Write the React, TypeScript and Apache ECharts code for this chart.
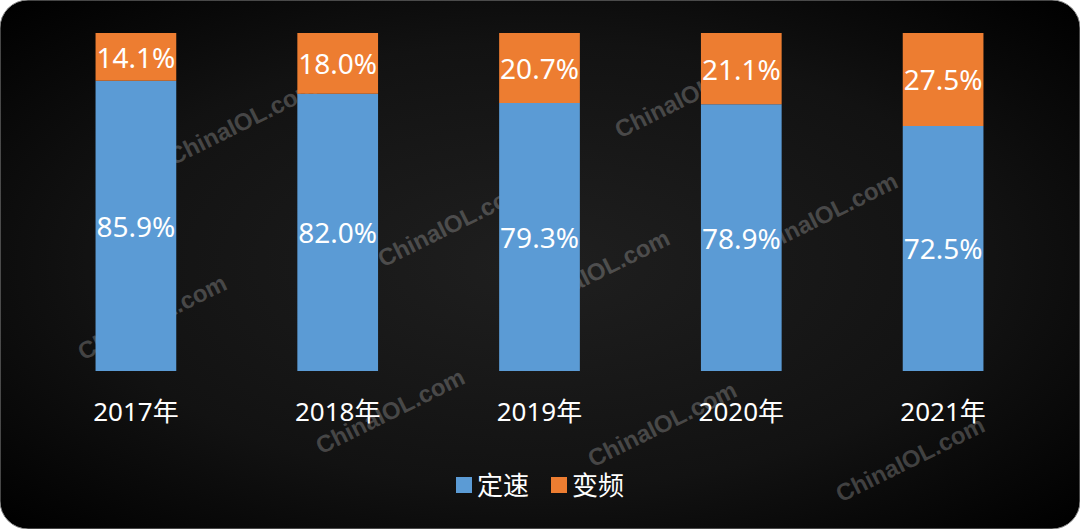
import React, { useEffect, useRef } from "react";
import * as echarts from "echarts";

const categories = ["2017年", "2018年", "2019年", "2020年", "2021年"];
const fixedSpeed = [85.9, 82.0, 79.3, 78.9, 72.5];
const variableFreq = [14.1, 18.0, 20.7, 21.1, 27.5];
const seriesNames = ["定速", "变频"];
const watermarkText = "ChinaIOL.com";
const watermarkCenters: [number, number][] = [
  [152, 317],
  [242, 122],
  [390, 411],
  [452, 224],
  [595, 272],
  [689, 95],
  [662, 424],
  [823, 215],
  [910, 459],
];

const FONT = "'Noto Sans', 'Noto Sans CJK SC', sans-serif";

export default function App() {
  const ref = useRef<HTMLDivElement>(null);

  useEffect(() => {
    if (!ref.current) return;
    const chart = echarts.init(ref.current, undefined, { renderer: "svg" });

    const watermarks = watermarkCenters.map(([x, y]) => ({
      type: "text",
      x,
      y,
      rotation: 0.46,
      z: -5,
      style: {
        text: watermarkText,
        fill: "rgba(255,255,255,0.22)",
        font: "bold 24px Arial, 'Liberation Sans', sans-serif",
        textAlign: "center",
        textVerticalAlign: "middle",
      },
    }));

    chart.setOption({
      animation: false,
      backgroundColor: "#ffffff",
      graphic: [
        {
          type: "rect",
          x: 0,
          y: 0,
          z: -10,
          shape: { width: 1080, height: 529, r: 28 },
          style: {
            fill: new echarts.graphic.RadialGradient(0.5, 0.5, 0.7, [
              { offset: 0, color: "#1f1f1f" },
              { offset: 0.6, color: "#121212" },
              { offset: 1, color: "#000000" },
            ]),
            stroke: "#8a8a8a",
            lineWidth: 1,
          },
        },
        ...watermarks,
      ],
      legend: {
        data: seriesNames,
        left: "center",
        top: 467,
        icon: "rect",
        itemWidth: 16,
        itemHeight: 16,
        itemGap: 22,
        textStyle: { color: "#ffffff", fontSize: 26, fontFamily: FONT },
      },
      grid: { left: 35, right: 36, top: 33, bottom: 158 },
      xAxis: {
        type: "category",
        data: categories,
        axisLine: { show: false },
        axisTick: { show: false },
        axisLabel: {
          color: "#ffffff",
          fontSize: 26,
          fontFamily: FONT,
          margin: 27,
        },
      },
      yAxis: {
        type: "value",
        min: 0,
        max: 100,
        show: false,
        splitLine: { show: false },
      },
      series: [
        {
          name: seriesNames[0],
          type: "bar",
          stack: "total",
          barWidth: "40%",
          data: fixedSpeed,
          itemStyle: { color: "#5B9BD5" },
          label: {
            show: true,
            position: "inside",
            color: "#ffffff",
            fontSize: 28,
            fontFamily: FONT,
            formatter: (p: any) => `${p.value.toFixed(1)}%`,
          },
        },
        {
          name: seriesNames[1],
          type: "bar",
          stack: "total",
          barWidth: "40%",
          data: variableFreq,
          itemStyle: { color: "#ED7D31" },
          label: {
            show: true,
            position: "inside",
            color: "#ffffff",
            fontSize: 28,
            fontFamily: FONT,
            formatter: (p: any) => `${p.value.toFixed(1)}%`,
          },
        },
      ],
    });

    return () => chart.dispose();
  }, []);

  return (
    <div
      ref={ref}
      style={{ position: "fixed", left: 0, top: 0, width: 1080, height: 529 }}
    />
  );
}
